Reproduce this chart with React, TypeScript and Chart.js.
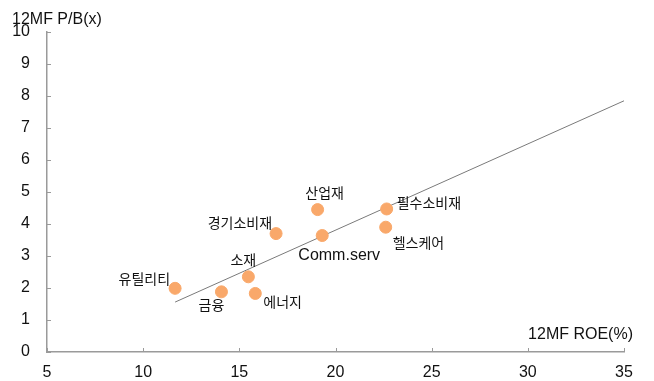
import React, { useEffect, useRef } from "react";
import { Chart, registerables } from "chart.js";

Chart.register(...registerables);

const sectors = ["유틸리티", "금융", "소재", "에너지", "경기소비재", "산업재", "Comm.serv", "필수소비재", "헬스케어"];
const roe = [11.66, 14.07, 15.47, 15.83, 16.91, 19.07, 19.31, 22.66, 22.61];
const pb = [1.99, 1.88, 2.35, 1.83, 3.7, 4.45, 3.64, 4.47, 3.9];
const trendX = [11.66, 35];
const trendY = [1.56, 7.85];
const xTicks = [5, 10, 15, 20, 25, 30, 35];
const yTicks = [0, 1, 2, 3, 4, 5, 6, 7, 8, 9, 10];
const yTitle = "12MF P/B(x)";
const xTitle = "12MF ROE(%)";

// label placement: [dx, dy, align]
const labelPlacement: [number, number, CanvasTextAlign][] = [
  [-5, -10, "right"],
  [-10, 13, "center"],
  [-5, -17, "center"],
  [8, 8, "left"],
  [-4, -11, "right"],
  [7, -17, "center"],
  [17, 20, "center"],
  [10, -6, "left"],
  [7, 15, "left"],
];

const LATIN = "'Liberation Sans', Arial, sans-serif";
const KOREAN = "'Noto Sans CJK KR', sans-serif";

export default function App() {
  const ref = useRef<HTMLCanvasElement | null>(null);
  useEffect(() => {
    document.body.style.margin = "0";
    const ctx = ref.current!;
    const overlay = {
      id: "overlay",
      afterDraw(chart: any) {
        const c = chart.ctx;
        const xs = chart.scales.x;
        const ys = chart.scales.y;
        const area = chart.chartArea;
        c.save();
        c.strokeStyle = "#9a9a9a";
        c.lineWidth = 1;
        c.beginPath();
        for (const t of xTicks) {
          const px = Math.round(xs.getPixelForValue(t)) + 0.5;
          c.moveTo(px, area.bottom);
          c.lineTo(px, area.bottom - 4);
        }
        for (const t of yTicks) {
          const py = Math.round(ys.getPixelForValue(t)) + 0.5;
          c.moveTo(area.left, py);
          c.lineTo(area.left + 4, py);
        }
        c.stroke();
        c.fillStyle = "#111";
        c.textBaseline = "middle";
        sectors.forEach((s, i) => {
          const [dx, dy, al] = labelPlacement[i];
          c.font = /[\uac00-\ud7a3]/.test(s) ? `14px ${KOREAN}` : `16px ${LATIN}`;
          c.textAlign = al;
          c.fillText(s, xs.getPixelForValue(roe[i]) + dx, ys.getPixelForValue(pb[i]) + dy);
        });
        c.font = `16px ${LATIN}`;
        c.textAlign = "left";
        c.fillText(yTitle, 12, 20);
        c.textAlign = "right";
        c.fillText(xTitle, area.right + 9, area.bottom - 17);
        c.restore();
      },
    };
    const chart = new Chart(ctx, {
      type: "scatter",
      data: {
        datasets: [
          {
            data: roe.map((x, i) => ({ x, y: pb[i] })),
            backgroundColor: "#F9A86A",
            borderColor: "#F9A86A",
            pointRadius: 6,
            pointHoverRadius: 6,
          },
          {
            type: "line",
            data: trendX.map((x, i) => ({ x, y: trendY[i] })),
            borderColor: "#7a7a7a",
            borderWidth: 1,
            pointRadius: 0,
            fill: false,
          } as any,
        ],
      },
      options: {
        animation: false,
        responsive: false,
        maintainAspectRatio: false,
        layout: { padding: { left: 0, right: 30, top: 32, bottom: 0 } },
        plugins: { legend: { display: false }, tooltip: { enabled: false } },
        scales: {
          x: {
            type: "linear",
            min: 5,
            max: 35,
            afterBuildTicks: (s: any) => {
              s.ticks = xTicks.map((v) => ({ value: v }));
            },
            afterFit: (s: any) => {
              s.height = 29;
            },
            grid: { display: false, drawTicks: false },
            border: { display: true, color: "#9a9a9a", width: 1.5 },
            ticks: { color: "#111", font: { family: LATIN, size: 16 }, padding: 11, maxRotation: 0 },
          },
          y: {
            type: "linear",
            min: 0,
            max: 10,
            afterBuildTicks: (s: any) => {
              s.ticks = yTicks.map((v) => ({ value: v }));
            },
            afterFit: (s: any) => {
              s.width = 47;
            },
            grid: { display: false, drawTicks: false },
            border: { display: true, color: "#9a9a9a", width: 1.5 },
            ticks: { color: "#111", font: { family: LATIN, size: 16 }, padding: 17 },
          },
        },
      },
      plugins: [overlay],
    });
    return () => chart.destroy();
  }, []);
  return (
    <div style={{ position: "fixed", left: 0, top: 0, width: 654, height: 381, background: "#fff" }}>
      <canvas ref={ref} width={654} height={381} style={{ width: 654, height: 381 }} />
    </div>
  );
}
